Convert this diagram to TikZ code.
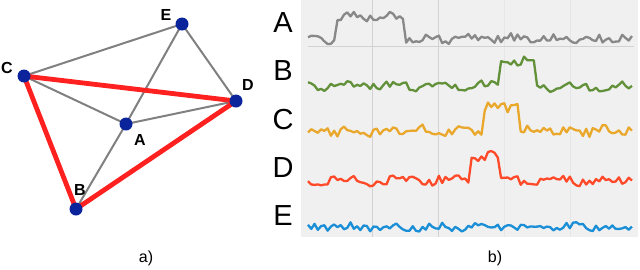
\documentclass[tikz,border=0pt]{standalone}
\usepackage{fontspec}
\setmainfont{Liberation Sans}
\definecolor{nodeblue}{HTML}{0B249C}
\definecolor{edgegray}{HTML}{808080}
\definecolor{edgered}{HTML}{FF2020}
\definecolor{panelbg}{HTML}{F0F0F0}
\definecolor{gridA}{HTML}{D2D2D2}
\definecolor{gridB}{HTML}{E6E6E6}
\definecolor{trA}{HTML}{888888}
\definecolor{trB}{HTML}{62913A}
\definecolor{trC}{HTML}{E9A82B}
\definecolor{trD}{HTML}{FF4A2A}
\definecolor{trE}{HTML}{1A8ED6}
\begin{document}
\begin{tikzpicture}[x=1pt,y=-1pt,
  vert/.style={circle,minimum size=13pt,inner sep=0pt},
  vlabel/.style={font=\fontsize{16}{16}\selectfont\bfseries,inner sep=0pt},
  grayedge/.style={draw=edgegray,line width=2pt},
  rededge/.style={draw=edgered,line width=4.8pt,line cap=round},
  sig/.style={font=\fontsize{29}{29}\selectfont,inner sep=0pt},
  captext/.style={font=\fontsize{16}{16}\selectfont,inner sep=0pt},
  trace/.style={line width=2.3pt,line join=round}]
\useasboundingbox (0,0) rectangle (640,269);
% ---- panel a) ----
\node[vert] (nE) at (182,24) {};
\node[vert] (nC) at (24,76) {};
\node[vert] (nD) at (236,101) {};
\node[vert] (nA) at (126,124) {};
\node[vert] (nB) at (76,209) {};
\draw[grayedge] (nC.center) -- (nE.center);
\draw[grayedge] (nE.center) -- (nD.center);
\draw[grayedge] (nE.center) -- (nA.center);
\draw[grayedge] (nA.center) -- (nB.center);
\draw[grayedge] (nC.center) -- (nA.center);
\draw[grayedge] (nA.center) -- (nD.center);
\draw[rededge] (nC.center) -- (nD.center);
\draw[rededge] (nC.center) -- (nB.center);
\draw[rededge] (nB.center) -- (nD.center);
\foreach \n in {nE,nC,nD,nA,nB}
  \fill[nodeblue] (\n.center) circle (6.5);
\node[vlabel] (lE) at (166,15) {E};
\node[vlabel] (lC) at (7,68) {C};
\node[vlabel] (lD) at (248,85) {D};
\node[vlabel] (lA) at (140,140) {A};
\node[vlabel] (lB) at (80,190) {B};
\node[captext] (capa) at (146,258) {a)};
% ---- panel b) ----
\fill[panelbg] (301,0) rectangle (638,237);
\draw[gridA,line width=1pt] (372,0) -- (372,237);
\draw[gridA,line width=1pt] (438,0) -- (438,237);
\draw[gridB,line width=1pt] (504,0) -- (504,237);
\draw[gridB,line width=1pt] (570,0) -- (570,237);
\draw[gridA,line width=1pt] (308,46) -- (634,46);
\node[sig] (sA) at (283,23) {A};
\node[sig] (sB) at (283,71) {B};
\node[sig] (sC) at (283,120) {C};
\node[sig] (sD) at (283,168) {D};
\node[sig] (sE) at (283,216) {E};
\pgfmathsetseed{11}
\draw[trace,trA] plot[domain=308:632,samples=100] (\x,{39+4*rand+2*sin(\x*9)-22*(\x>336)*(\x<404)});
\pgfmathsetseed{23}
\draw[trace,trB] plot[domain=308:632,samples=100] (\x,{86+4*rand+2*sin(\x*8)-24*(\x>501)*(\x<534)});
\pgfmathsetseed{37}
\draw[trace,trC] plot[domain=308:632,samples=100] (\x,{131+4.5*rand+2*sin(\x*10)-24*(\x>484)*(\x<518)});
\pgfmathsetseed{41}
\draw[trace,trD] plot[domain=308:632,samples=100] (\x,{180+4.5*rand+2*sin(\x*7)-24*(\x>469)*(\x<501)});
\pgfmathsetseed{53}
\draw[trace,trE] plot[domain=308:632,samples=100] (\x,{227+3.5*rand+1.5*sin(\x*8)});
\node[captext] (capb) at (495,258) {b)};
\end{tikzpicture}
\end{document}
